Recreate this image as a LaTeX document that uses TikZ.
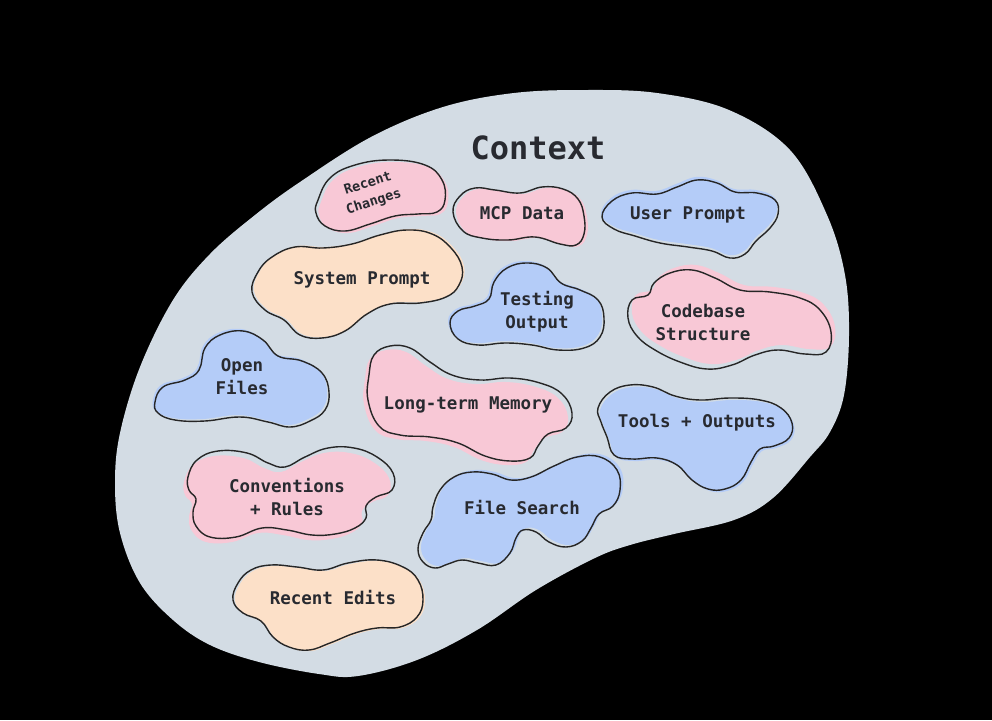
\documentclass[tikz,border=0pt]{standalone}
\usepackage{fontspec}
\setmonofont{DejaVu Sans Mono}
\usepackage{xcolor}
\definecolor{ctxGrey}{RGB}{211,220,228}
\definecolor{pinkBlob}{RGB}{248,200,214}
\definecolor{blueBlob}{RGB}{180,204,248}
\definecolor{peachBlob}{RGB}{252,224,200}
\definecolor{inkText}{RGB}{40,42,48}
% fill a little off the outline, as if drawn by hand
\newcommand{\blob}[3]{%
  \fill[#1, shift={#2}] plot[smooth cycle, tension=0.7] coordinates {#3};
  \draw[blobline] plot[smooth cycle, tension=0.7] coordinates {#3};}

\begin{document}
\begin{tikzpicture}[
    x=1pt, y=-1pt,
    blobline/.style={draw=black!85, line width=1.4pt},
    blobtext/.style={font=\ttfamily\bfseries\fontsize{17.5}{23}\selectfont, text=inkText, align=center},
    titletext/.style={font=\ttfamily\bfseries\fontsize{32}{36}\selectfont, text=inkText}
]
\fill[black] (0,0) rectangle (992,720);

% context blob
\fill[ctxGrey] plot[smooth cycle, tension=0.6] coordinates {
  (586,90) (657,93) (729,110) (790,150) (827,215) (845,275) (849,335) (844,395)
  (830,432) (810,457) (773,498) (734,520) (674,534) (630,545) (595,558) (536,590)
  (477,630) (417,660) (358,676) (319,674) (259,662) (210,645) (173,620) (140,583)
  (120,533) (115,483) (120,433) (140,367) (173,300) (210,254) (255,215) (300,182)
  (371,137) (443,107) (514,93)};
\node[titletext] (ctxtitle) at (538,148) {Context};

% small blobs
\blob{pinkBlob}{(3,2)}{(318,200) (330,178) (355,165) (390,160) (425,165) (442,180) (445,200) (437,212)
  (418,214) (395,216) (370,224) (345,231) (325,226) (316,213)}
\node[blobtext, font=\ttfamily\bfseries\fontsize{13.5}{19}\selectfont, rotate=18] (recentchg) at (371,193) {Recent\\Changes};

\blob{pinkBlob}{(3,1)}{(453,212) (460,196) (475,188) (495,190) (520,193) (542,187) (563,189) (578,199)
  (584,216) (584,234) (576,245) (560,244) (535,237) (508,240) (482,238) (463,231)}
\node[blobtext] (mcpdata) at (522,213) {MCP Data};

\blob{blueBlob}{(-1,-3)}{(602,217) (612,201) (632,193) (657,194) (677,187) (697,180) (717,183) (735,192)
  (757,193) (775,200) (778,214) (770,228) (756,241) (745,254) (730,258) (712,251)
  (688,247) (660,243) (635,236) (614,229)}
\node[blobtext] (userprompt) at (688,215) {User Prompt};

\blob{peachBlob}{(2,-1)}{(252,292) (258,272) (272,257) (295,247) (323,248) (352,244) (380,235) (407,230)
  (432,234) (451,248) (462,267) (459,285) (446,297) (420,303) (390,304) (367,314)
  (345,331) (322,338) (300,335) (284,320) (265,310)}
\node[blobtext] (sysprompt) at (362,280) {System Prompt};

\blob{blueBlob}{(-2,-2)}{(450,323) (458,311) (475,306) (489,299) (494,282) (507,268) (527,263) (547,268)
  (561,283) (580,290) (598,300) (604,318) (600,337) (584,348) (558,350) (532,345)
  (505,343) (478,345) (458,339)}
\node[blobtext] (testout) at (537,312) {Testing\\Output};

\blob{pinkBlob}{(4,-5)}{(628,318) (632,300) (648,295) (654,283) (670,273) (692,270) (715,278) (740,290)
  (770,292) (800,298) (820,310) (831,332) (826,352) (805,354) (778,350) (755,355)
  (732,365) (707,369) (680,362) (655,350) (637,336)}
\node[blobtext] (codebase) at (703,322) {Codebase\\Structure};

\blob{blueBlob}{(-2,-2)}{(155,402) (163,387) (185,380) (199,370) (205,348) (220,335) (243,331) (263,340)
  (278,356) (302,361) (322,373) (329,392) (325,410) (310,421) (290,427) (268,422)
  (240,417) (205,421) (175,420) (158,413)}
\node[blobtext] (openfiles) at (242,377) {Open\\Files};

\blob{pinkBlob}{(-4,4)}{(368,400) (369,375) (374,355) (390,346) (410,348) (430,362) (452,375) (480,380)
  (510,378) (540,383) (562,394) (572,413) (566,428) (548,434) (538,446) (530,458)
  (510,461) (485,456) (458,443) (430,437) (400,435) (379,426)}
\node[blobtext] (memory) at (468,405) {Long-term Memory};

\blob{blueBlob}{(2,2)}{(598,408) (610,392) (630,385) (653,387) (675,396) (700,400) (730,398) (760,400)
  (781,408) (792,423) (789,438) (774,446) (760,449) (751,462) (741,480) (725,489)
  (708,489) (692,480) (677,465) (657,458) (632,459) (614,455) (607,437) (601,422)}
\node[blobtext] (tools) at (697,423) {Tools + Outputs};

\blob{pinkBlob}{(-4,5)}{(188,477) (197,460) (218,451) (247,453) (268,463) (285,467) (305,457) (328,448)
  (354,448) (377,457) (393,473) (392,490) (376,497) (366,506) (366,518) (355,528)
  (335,534) (312,535) (287,530) (262,528) (236,537) (210,537) (196,526) (193,512)
  (196,499) (189,490)}
\node[blobtext] (conventions) at (287,497) {Conventions\\+ Rules};

\blob{blueBlob}{(3,-2)}{(433,507) (440,490) (454,477) (472,472) (492,474) (511,480) (531,477) (554,466)
  (577,457) (600,457) (617,470) (620,490) (613,506) (599,514) (591,528) (582,541)
  (566,547) (549,542) (536,532) (523,530) (516,538) (510,553) (496,565) (478,563)
  (462,560) (448,564) (435,568) (423,562) (418,549) (423,533) (431,520)}
\node[blobtext] (filesearch) at (522,508) {File Search};

\blob{peachBlob}{(2,1)}{(233,600) (238,583) (251,570) (271,565) (297,567) (323,570) (348,563) (377,560)
  (403,567) (418,580) (423,600) (417,617) (400,627) (377,628) (355,633) (330,643)
  (309,650) (289,647) (273,637) (261,621) (243,613)}
\node[blobtext] (recentedits) at (333,598) {Recent Edits};
\end{tikzpicture}
\end{document}
